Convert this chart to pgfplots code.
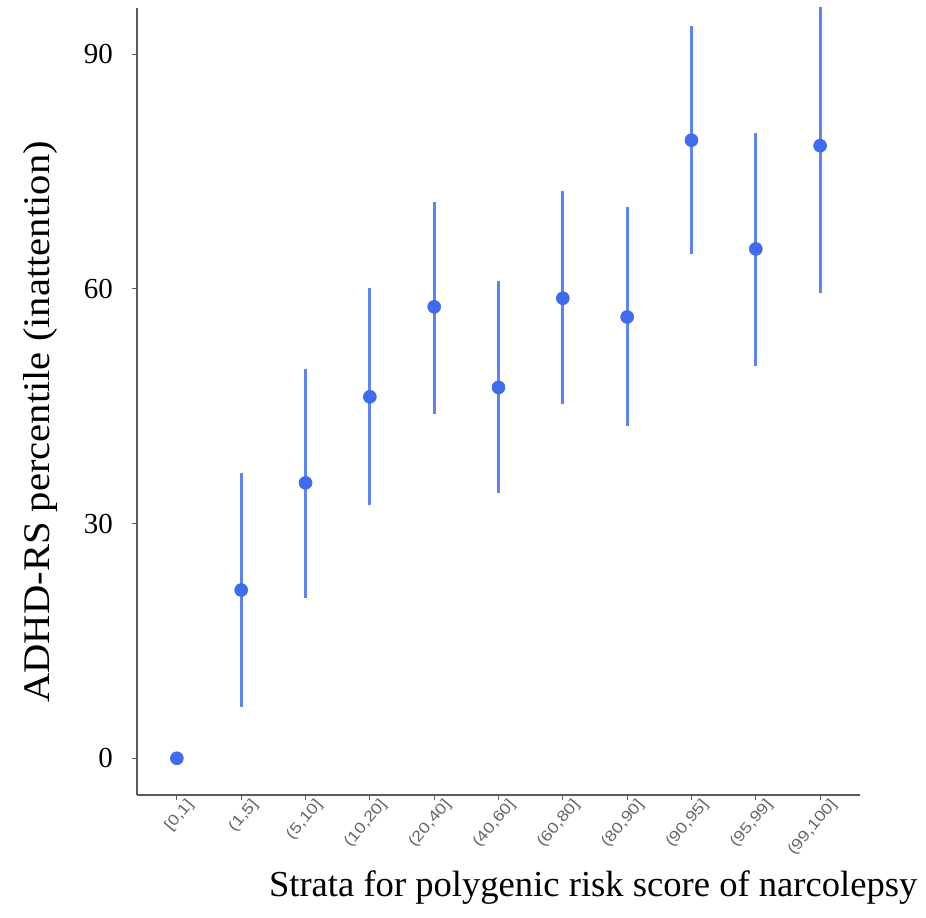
\documentclass[border=0pt]{standalone}
\usepackage{pgfplots}
\pgfplotsset{compat=1.18}
\usepackage{fontspec}
\setmainfont{Liberation Serif}
\newfontfamily\ticksans{Liberation Sans}
\definecolor{ptblue}{HTML}{3F6BEE}
\definecolor{barblue}{HTML}{5C84F2}
\definecolor{axgray}{HTML}{5A5A5A}
\newcommand{\tl}[1]{\scalebox{1.2}[1]{#1}}
\begin{document}
\begin{tikzpicture}
\path[use as bounding box] (-68.5pt,-61pt) rectangle (394.5pt,397.5pt);
\begin{axis}[
  at={(0pt,0pt)}, anchor=south west,
  scale only axis, width=361.5pt, height=393.5pt,
  xmin=-0.62, xmax=10.62, ymin=-4.7, ymax=95.9,
  axis x line*=bottom, axis y line*=left,
  axis line style={axgray, line width=0.9pt},
  xtick={0,...,10},
  xticklabels={{\tl{[0,1]}},{\tl{(1,5]}},{\tl{(5,10]}},{\tl{(10,20]}},{\tl{(20,40]}},{\tl{(40,60]}},{\tl{(60,80]}},{\tl{(80,90]}},{\tl{(90,95]}},{\tl{(95,99]}},{\tl{(99,100]}}},
  ytick={0,30,60,90},
  tick align=outside, major tick length=2.5pt,
  tick style={axgray, line width=0.6pt},
  xticklabel style={font=\ticksans\fontsize{7.6}{9}\selectfont, text=gray!80!black, rotate=50, anchor=east, inner sep=0pt, xshift=4pt, yshift=-6pt},
  yticklabel style={font=\fontsize{14.5}{16}\selectfont, xshift=-6pt},
  /pgf/number format/assume math mode=true,
  xlabel={Strata for polygenic risk score of narcolepsy},
  xlabel style={font=\fontsize{18.3}{20}\selectfont, at={(axis description cs:0.631,-0.117)}, anchor=center},
  ylabel={\scalebox{1.08}[1]{ADHD-RS percentile (inattention)}},
  ylabel style={font=\fontsize{18.8}{20}\selectfont, at={(axis description cs:-0.134,0.474)}, anchor=center, rotate=0},
  clip=true,
]
\addplot[
  only marks, mark=*, mark size=3.2pt,
  mark options={draw=ptblue, fill=ptblue},
  error bars/.cd, y dir=both, y explicit, error mark=none,
  error bar style={barblue, line width=1.5pt},
] table[x=x, y=y, y error plus=ep, y error minus=em] {
x y ep em
0 0 0 0
1 21.5 14.9 14.9
2 35.2 14.5 14.7
3 46.2 13.9 13.8
4 57.7 13.4 13.7
5 47.4 13.6 13.5
6 58.8 13.7 13.5
7 56.4 14.1 13.9
8 79.0 14.6 14.5
9 65.1 14.8 15.0
10 78.3 18.8 18.8
};
\end{axis}
\end{tikzpicture}
\end{document}
